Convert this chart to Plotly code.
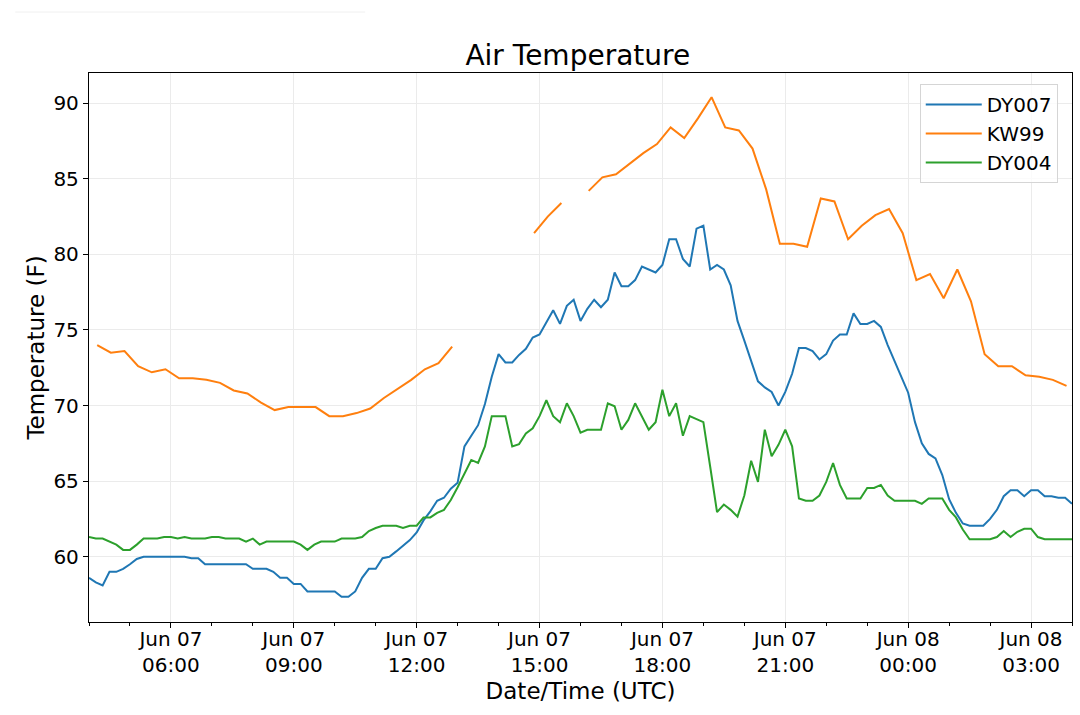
import pandas as pd
import plotly.graph_objects as go

# DY stations report every 10 min, KW99 every 20 min (gaps = missing)
dy_times = pd.date_range("2018-06-07 04:00", periods=145, freq="10min")
kw_times = pd.date_range("2018-06-07 04:12", periods=72, freq="20min")

dy007 = [
    58.6, 58.3, 58.1, 59.0, 59.0, 59.2, 59.5, 59.85, 60.0, 60.0,
    60.0, 60.0, 60.0, 60.0, 60.0, 59.9, 59.9, 59.5, 59.5, 59.5,
    59.5, 59.5, 59.5, 59.5, 59.2, 59.2, 59.2, 59.0, 58.6, 58.6,
    58.2, 58.2, 57.7, 57.7, 57.7, 57.7, 57.7, 57.35, 57.35, 57.7,
    58.6, 59.2, 59.2, 59.9, 60.0, 60.35, 60.7, 61.1, 61.6, 62.4,
    63.0, 63.7, 63.9, 64.5, 64.9, 67.3, 68.0, 68.7, 70.1, 71.9,
    73.4, 72.85, 72.85, 73.35, 73.75, 74.5, 74.7, 75.55, 76.3, 75.4,
    76.6, 77.0, 75.6, 76.4, 77.0, 76.5, 77.0, 78.8, 77.9, 77.9,
    78.3, 79.2, 79.0, 78.8, 79.3, 81.0, 81.0, 79.7, 79.2, 81.7,
    81.9, 79.0, 79.3, 79.0, 77.95, 75.6, 74.3, 72.9, 71.6, 71.2,
    70.9, 70.0, 70.9, 72.1, 73.8, 73.8, 73.6, 73.05, 73.4, 74.3,
    74.7, 74.7, 76.1, 75.4, 75.4, 75.6, 75.2, 74.0, 72.9, 71.9,
    70.85, 68.9, 67.5, 66.8, 66.5, 65.4, 63.8, 62.9, 62.2, 62.05,
    62.05, 62.05, 62.5, 63.1, 64.0, 64.4, 64.4, 64.0, 64.4, 64.4,
    64.0, 64.0, 63.9, 63.9, 63.5,
]

kw99 = [
    74.0, 73.5, 73.6, 72.6, 72.2, 72.4, 71.8, 71.8, 71.7, 71.5,
    71.0, 70.8, 70.2, 69.7, 69.9, 69.9, 69.9, 69.3, 69.3, 69.5,
    69.8, 70.5, 71.1, 71.7, 72.4, 72.8, 73.9, None, None, None,
    None, None, 81.4, 82.5, 83.4, None, 84.2, 85.1, 85.3, 86.0,
    86.7, 87.3, 88.4, 87.7, 89.0, 90.4, 88.4, 88.2, 87.0, 84.3,
    80.7, 80.7, 80.5, 83.7, 83.5, 81.0, 81.9, 82.6, 83.0, 81.4,
    78.3, 78.7, 77.1, 79.0, 76.9, 73.4, 72.6, 72.6, 72.0, 71.9,
    71.7, 71.3,
]

dy004 = [
    61.3, 61.2, 61.2, 61.0, 60.8, 60.45, 60.45, 60.8, 61.2, 61.2,
    61.2, 61.3, 61.3, 61.2, 61.3, 61.2, 61.2, 61.2, 61.3, 61.3,
    61.2, 61.2, 61.2, 61.0, 61.2, 60.8, 61.0, 61.0, 61.0, 61.0,
    61.0, 60.8, 60.45, 60.8, 61.0, 61.0, 61.0, 61.2, 61.2, 61.2,
    61.3, 61.7, 61.9, 62.05, 62.05, 62.05, 61.9, 62.05, 62.05, 62.6,
    62.6, 62.9, 63.1, 63.75, 64.6, 65.5, 66.4, 66.2, 67.3, 69.3,
    69.3, 69.3, 67.3, 67.45, 68.15, 68.5, 69.3, 70.35, 69.3, 68.9,
    70.15, 69.3, 68.2, 68.4, 68.4, 68.4, 70.15, 69.95, 68.4, 69.05,
    70.15, 69.3, 68.4, 68.9, 71.05, 69.3, 70.15, 68.0, 69.3, 69.1,
    68.9, 65.95, 62.95, 63.45, 63.1, 62.65, 64.05, 66.35, 64.95, 68.4,
    66.65, 67.4, 68.4, 67.3, 63.85, 63.7, 63.7, 64.05, 64.95, 66.2,
    64.75, 63.85, 63.85, 63.85, 64.55, 64.55, 64.75, 64.05, 63.7, 63.7,
    63.7, 63.7, 63.5, 63.85, 63.85, 63.85, 63.1, 62.6, 61.8, 61.15,
    61.15, 61.15, 61.15, 61.3, 61.7, 61.3, 61.65, 61.85, 61.85, 61.3,
    61.15, 61.15, 61.15, 61.15, 61.15,
]

tick_times = pd.date_range("2018-06-07 06:00", periods=8, freq="3h")
tick_text = ["Jun 07<br>06:00", "Jun 07<br>09:00", "Jun 07<br>12:00",
             "Jun 07<br>15:00", "Jun 07<br>18:00", "Jun 07<br>21:00",
             "Jun 08<br>00:00", "Jun 08<br>03:00"]
y_ticks = [60, 65, 70, 75, 80, 85, 90]

font = "DejaVu Sans"

fig = go.Figure()
fig.add_trace(go.Scatter(x=dy_times, y=dy007, name="DY007", mode="lines",
                         line=dict(color="#1f77b4", width=2)))
fig.add_trace(go.Scatter(x=kw_times, y=kw99, name="KW99", mode="lines",
                         line=dict(color="#ff7f0e", width=2), connectgaps=False))
fig.add_trace(go.Scatter(x=dy_times, y=dy004, name="DY004", mode="lines",
                         line=dict(color="#2ca02c", width=2)))

ax = dict(
    showline=True, mirror=True, linecolor="black", linewidth=1.3,
    ticks="outside", ticklen=5, tickcolor="black",
    showgrid=True, gridcolor="#ebebeb", gridwidth=1,
    zeroline=False,
    tickfont=dict(family=font, size=20, color="black"),
)

fig.update_layout(
    width=1080, height=715,
    paper_bgcolor="white", plot_bgcolor="white",
    margin=dict(l=89, r=8, t=73, b=93),
    font=dict(family=font, color="black"),
    title=dict(text="Air Temperature", x=0.535, xanchor="center",
               y=0.923, yanchor="middle",
               font=dict(family=font, size=28, color="black")),
    xaxis=dict(ax, range=["2018-06-07 04:00", "2018-06-08 04:00"],
               tickvals=tick_times, ticktext=tick_text,
               ticklabelstandoff=-6,
               minor=dict(ticks="outside", ticklen=3, tickcolor="black",
                          dtick=3600000, showgrid=False),
               title=dict(text="Date/Time (UTC)", standoff=6,
                          font=dict(family=font, size=23))),
    yaxis=dict(ax, range=[55.68, 92.0], tickvals=y_ticks,
               title=dict(text="Temperature (F)", standoff=2,
                          font=dict(family=font, size=23))),
    legend=dict(x=0.9855, y=0.98, xanchor="right", yanchor="top",
                bgcolor="rgba(255,255,255,0.8)", bordercolor="#d5d5d5",
                borderwidth=1, itemwidth=56, tracegroupgap=0,
                font=dict(family=font, size=20)),
    showlegend=True,
)

# faint stray rule at the top-left of the original image
fig.add_shape(type="line", xref="paper", yref="paper",
              x0=-0.075, x1=0.281, y0=1.111, y1=1.111,
              line=dict(color="#f0f0f0", width=1))

fig.write_html("out.html", config={"displayModeBar": False},
               post_script="document.body.style.margin='0';")
